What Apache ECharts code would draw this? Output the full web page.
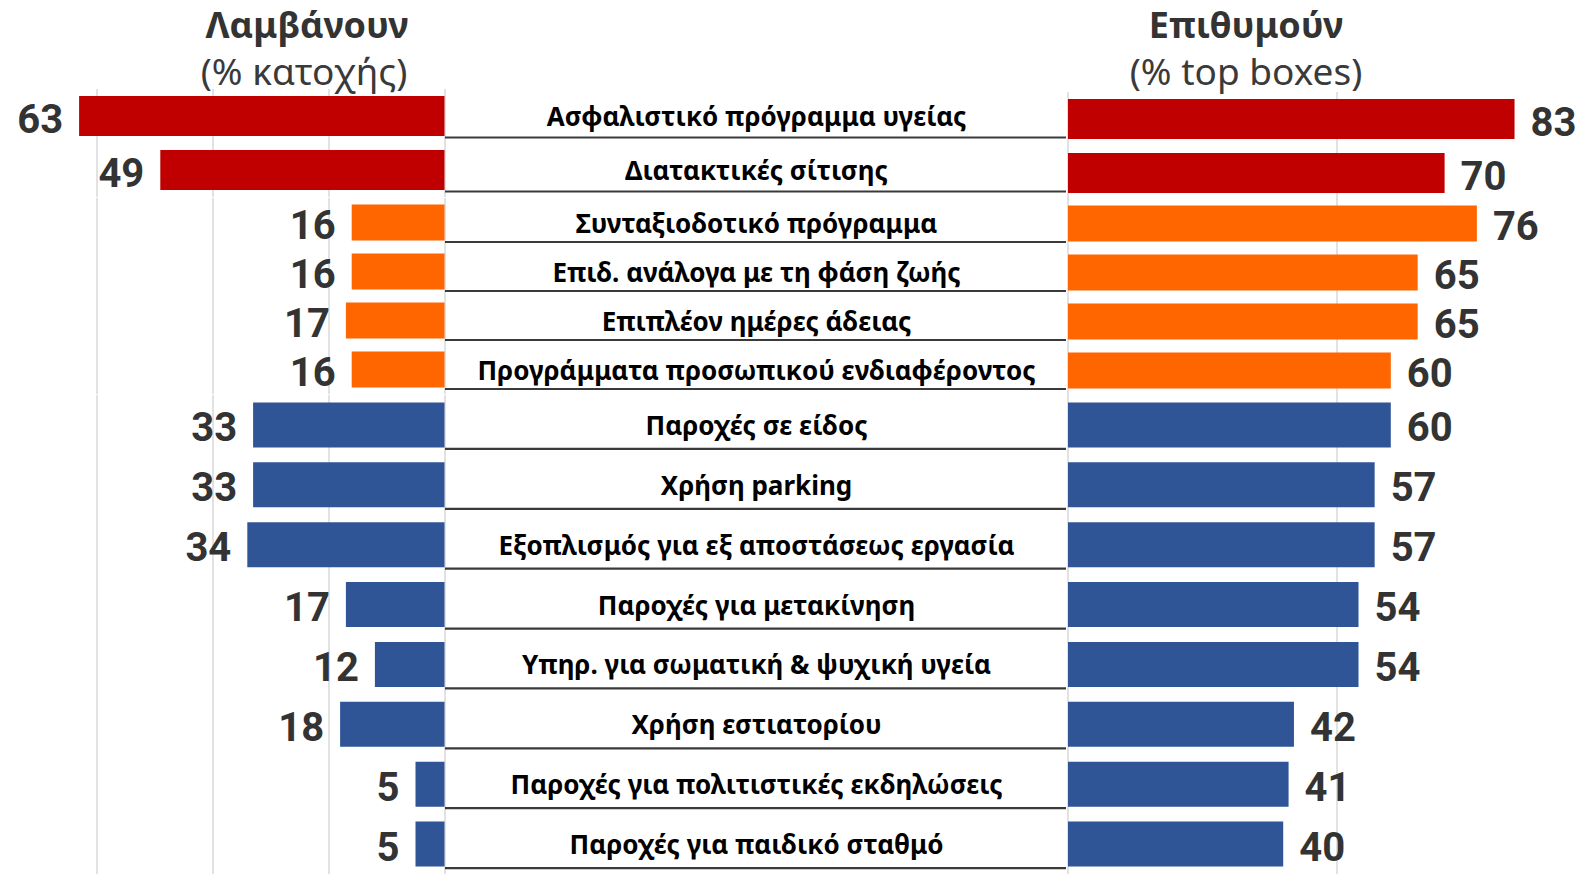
<!DOCTYPE html>
<html>
<head>
<meta charset="utf-8">
<script src="https://cdn.jsdelivr.net/npm/echarts@6/dist/echarts.min.js"></script>
<style>
html,body{margin:0;padding:0;background:#fff;}
#chart{width:1583px;height:874px;}
</style>
</head>
<body>
<div id="chart"></div>
<script>
// ---- data ----
const categories = [
  "Ασφαλιστικό πρόγραμμα υγείας",
  "Διατακτικές σίτισης",
  "Συνταξιοδοτικό πρόγραμμα",
  "Επιδ. ανάλογα με τη φάση ζωής",
  "Επιπλέον ημέρες άδειας",
  "Προγράμματα προσωπικού ενδιαφέροντος",
  "Παροχές σε είδος",
  "Χρήση parking",
  "Εξοπλισμός για εξ αποστάσεως εργασία",
  "Παροχές για μετακίνηση",
  "Υπηρ. για σωματική & ψυχική υγεία",
  "Χρήση εστιατορίου",
  "Παροχές για πολιτιστικές εκδηλώσεις",
  "Παροχές για παιδικό σταθμό"
];
const receiveValues = [63, 49, 16, 16, 17, 16, 33, 33, 34, 17, 12, 18, 5, 5];
const desireValues  = [83, 70, 76, 65, 65, 60, 60, 57, 57, 54, 54, 42, 41, 40];
const groupSizes = [2, 4, 8];
const leftTitle = "Λαμβάνουν";
const leftSubtitle = "(% κατοχής)";
const rightTitle = "Επιθυμούν";
const rightSubtitle = "(% top boxes)";

// ---- layout / style ----
const W = 1583;
const groupStyle = [
  {color: '#C00000', topL: 89,  topR: 92,  height: 108, barW: 40},
  {color: '#FF6600', topL: 198, topR: 199, height: 196, barW: 36},
  {color: '#2F5597', topL: 395, topR: 395, height: 488, barW: 45}
];
const LEFT_ZERO = 444.5, LEFT_PX = 5.8;
const LEFT_MAX = LEFT_ZERO / LEFT_PX;            // axis extent that fills to the canvas edge
const RIGHT_ZERO = 1068, RIGHT_PX = 5.38;
const RIGHT_MAX = (W - RIGHT_ZERO) / RIGHT_PX;
const CENTER_L = 445, CENTER_R = 1066;
const numFont = 'Roboto';
const catFont = '"Noto Sans"';

const chart = echarts.init(document.getElementById('chart'), null, {renderer: 'svg'});

const grid = [], xAxis = [], yAxis = [], series = [];
let start = 0;
groupSizes.forEach((n, g) => {
  const st = groupStyle[g];
  const cats = categories.slice(start, start + n);
  const rec = receiveValues.slice(start, start + n);
  const des = desireValues.slice(start, start + n);
  const gi = grid.length;
  grid.push({left: 0, width: LEFT_ZERO, top: st.topL, height: st.height, containLabel: false});
  grid.push({left: CENTER_L, width: CENTER_R - CENTER_L, top: st.topL, height: st.height, containLabel: false});
  grid.push({left: RIGHT_ZERO, width: W - RIGHT_ZERO, top: st.topR, height: st.height, containLabel: false});

  const split = {show: true, showMaxLine: false, lineStyle: {color: '#d9d9d9', width: 1.5}};
  xAxis.push({gridIndex: gi, type: 'value', inverse: true, min: 0, max: LEFT_MAX, interval: 20,
    axisLabel: {show: false}, axisLine: {show: false}, axisTick: {show: false}, splitLine: split});
  xAxis.push({gridIndex: gi + 1, type: 'value', min: 0, max: 1, show: false, splitLine: {show: false}});
  xAxis.push({gridIndex: gi + 2, type: 'value', min: 0, max: RIGHT_MAX, interval: 50,
    axisLabel: {show: false}, axisLine: {show: false}, axisTick: {show: false}, splitLine: split});

  yAxis.push({gridIndex: gi, type: 'category', data: cats, inverse: true, show: false});
  yAxis.push({gridIndex: gi + 1, type: 'category', data: cats, inverse: true,
    axisLine: {show: false}, axisTick: {show: false}, splitLine: {show: false},
    axisLabel: {inside: true, align: 'center', margin: (CENTER_R - CENTER_L) / 2 + 1,
      fontFamily: catFont, fontWeight: 'bold', fontSize: 26, color: '#000'}});
  yAxis.push({gridIndex: gi + 2, type: 'category', data: cats, inverse: true, show: false});

  const numLabel = {show: true, fontFamily: numFont, fontWeight: 'bold', fontSize: 40, color: '#333', distance: 16, offset: [0, 3]};
  series.push({type: 'bar', xAxisIndex: gi, yAxisIndex: gi, data: rec, barWidth: st.barW,
    itemStyle: {color: st.color}, label: Object.assign({position: 'left'}, numLabel), silent: true});
  series.push({type: 'bar', xAxisIndex: gi + 2, yAxisIndex: gi + 2, data: des, barWidth: st.barW,
    itemStyle: {color: st.color}, label: Object.assign({position: 'right'}, numLabel), silent: true});
  const bw = st.barW;
  series.push({type: 'custom', xAxisIndex: gi + 1, yAxisIndex: gi + 1, silent: true, clip: false,
    data: cats.map((c, i) => [0, i]),
    renderItem: function (params, api) {
      const p0 = api.coord([0, api.value(1)]);
      const p1 = api.coord([1, api.value(1)]);
      const y = p0[1] + bw / 2 + 1.5;
      return {type: 'line', shape: {x1: p0[0], y1: y, x2: p1[0], y2: y},
        style: {stroke: '#3a3a3a', lineWidth: 2.2}};
    }});
  start += n;
});

const titleFont = '"Noto Sans"';
chart.setOption({
  animation: false,
  title: [
    {text: leftTitle, left: 307, top: 5, textAlign: 'center', padding: 0,
      textStyle: {fontFamily: titleFont, fontSize: 36, lineHeight: 38, fontWeight: 'bold', color: '#333'}},
    {text: leftSubtitle, left: 304, top: 50, textAlign: 'center', padding: 0,
      textStyle: {fontFamily: titleFont, fontSize: 37, lineHeight: 40, fontWeight: 'normal', color: '#3a3a3a'}},
    {text: rightTitle, left: 1246, top: 5, textAlign: 'center', padding: 0,
      textStyle: {fontFamily: titleFont, fontSize: 36, lineHeight: 38, fontWeight: 'bold', color: '#333'}},
    {text: rightSubtitle, left: 1246, top: 50, textAlign: 'center', padding: 0,
      textStyle: {fontFamily: titleFont, fontSize: 37, lineHeight: 40, fontWeight: 'normal', color: '#3a3a3a'}}
  ],
  grid: grid, xAxis: xAxis, yAxis: yAxis, series: series
});
</script>
</body>
</html>
